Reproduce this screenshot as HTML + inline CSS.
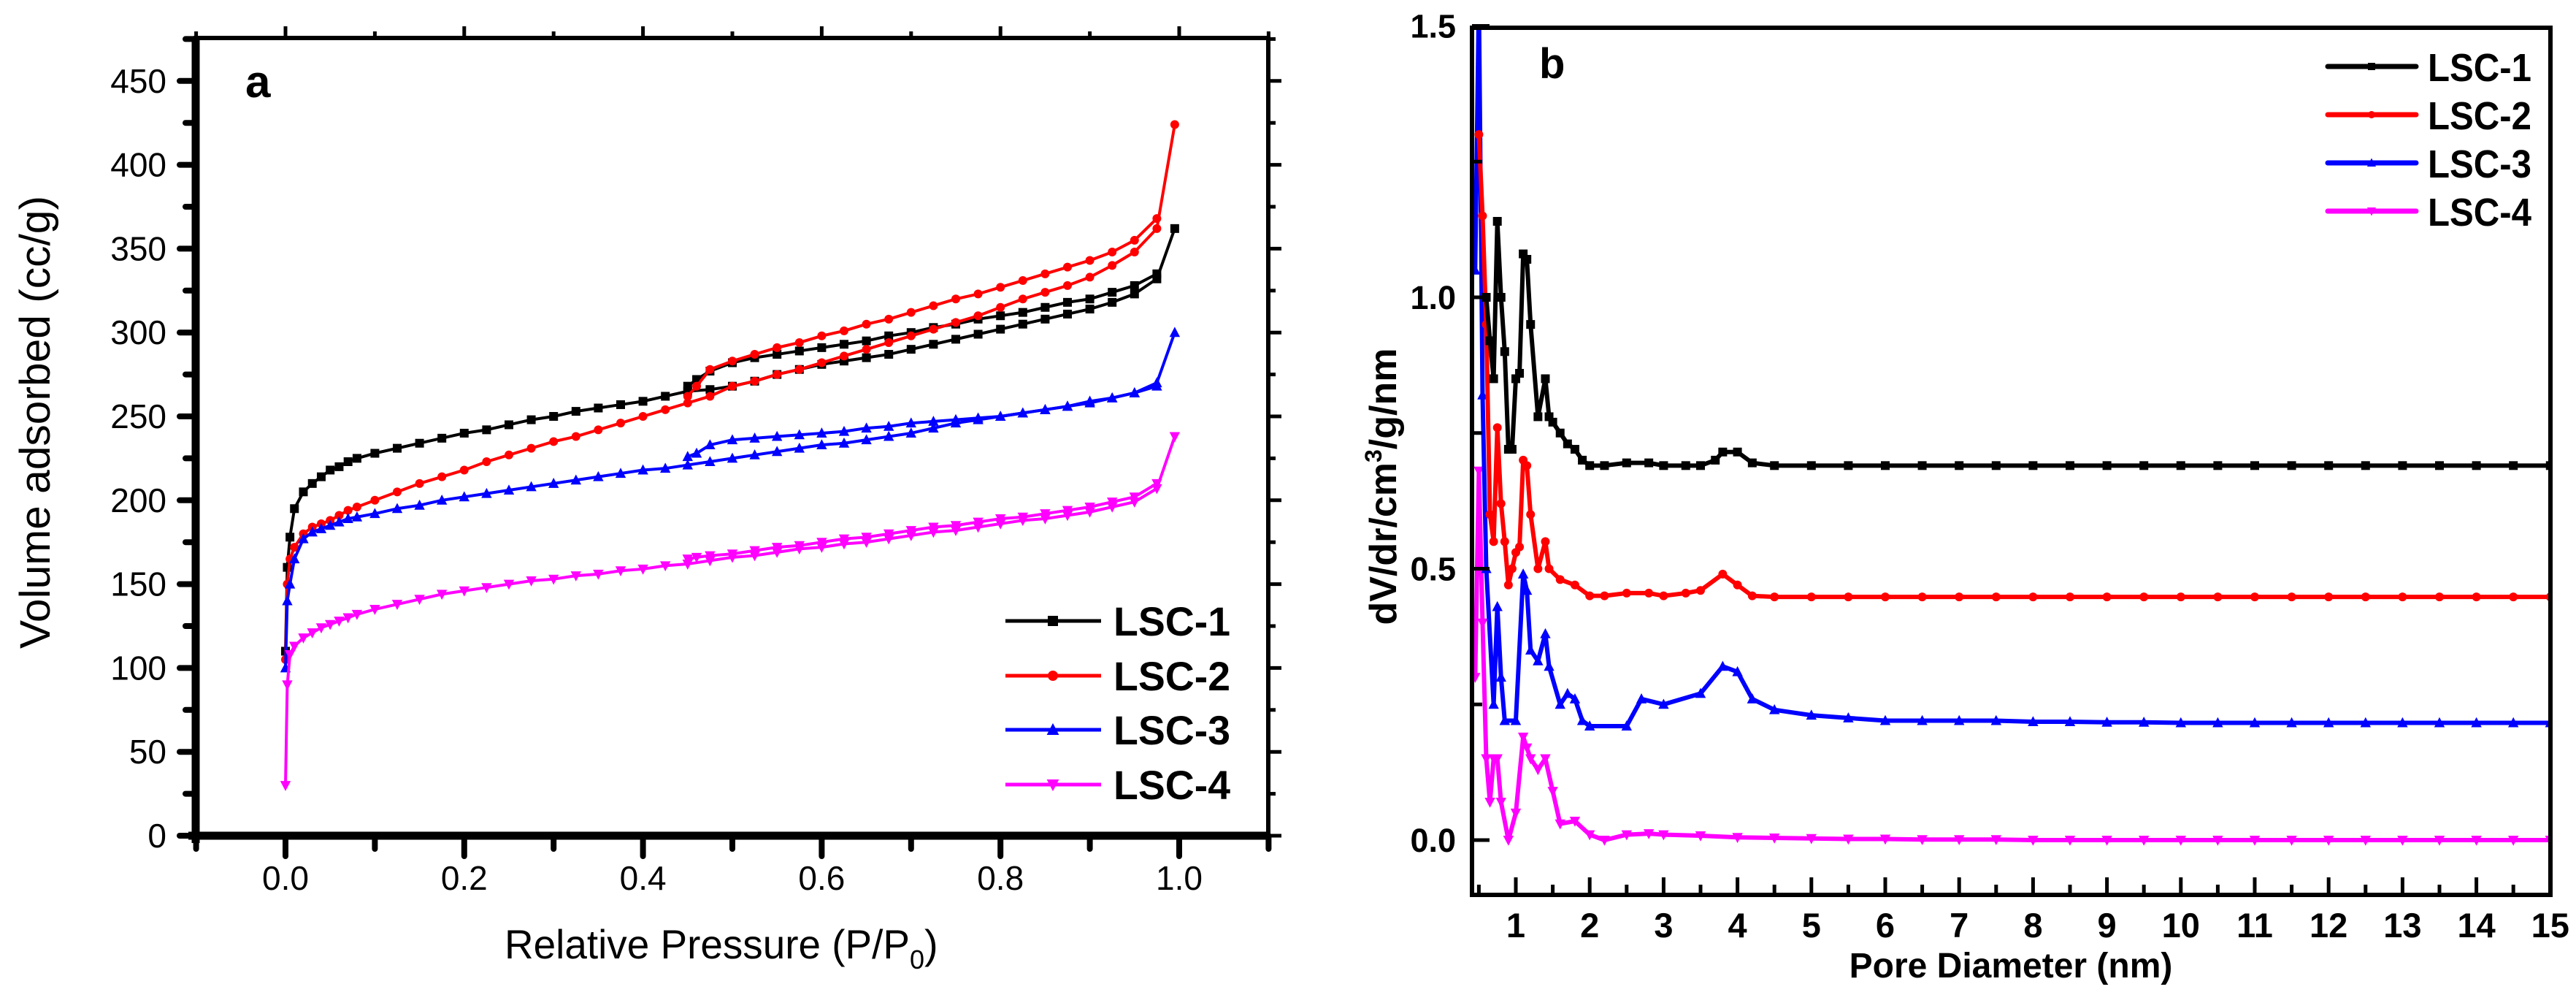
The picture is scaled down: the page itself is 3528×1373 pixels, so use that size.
<!DOCTYPE html>
<html><head><meta charset="utf-8"><style>
html,body{margin:0;padding:0;background:#fff;}
svg{display:block;font-family:"Liberation Sans",Arial,sans-serif;}
</style></head><body>
<svg id="fig" width="3528" height="1373" viewBox="0 0 3528 1373" xmlns="http://www.w3.org/2000/svg">
<g id="pa"></g>
<g id="pb"></g>
</svg>
<script>
// ---------- Panel a data ----------
const aNames = ["LSC-1","LSC-2","LSC-3","LSC-4"];
const aColors = ["#000000","#ff0000","#0000ff","#ff00ff"];
const aAdsP = [0,0.002,0.005,0.01,0.02,0.03,0.04,0.05,0.06,0.07,0.08,0.1,0.125,0.15,0.175,0.2,0.225,0.25,0.275,0.3,0.325,0.35,0.375,0.4,0.425,0.45,0.475,0.5,0.525,0.55,0.575,0.6,0.625,0.65,0.675,0.7,0.725,0.75,0.775,0.8,0.825,0.85,0.875,0.9,0.925,0.95,0.975,0.995];
const ads1 = [110,160,178,195,205,210,214,218,220,223,225,228,231,234,237,240,242,245,248,250,253,255,257,259,262,265,266,268,271,275,278,281,283,285,287,290,293,296,299,302,305,308,311,314,318,323,332,362];
const ads2 = [105,150,165,172,180,184,186,188,191,194,196,200,205,210,214,218,223,227,231,235,238,242,246,250,254,258,262,268,271,275,278,282,286,290,294,298,302,306,310,315,320,324,328,333,340,348,362,424];
const ads3 = [100,140,150,165,177,181,183,185,187,189,190,192,195,197,200,202,204,206,208,210,212,214,216,218,219,221,223,225,227,229,231,233,234,236,238,240,243,246,248,250,252,254,256,258,261,264,270,300];
const ads4 = [30,90,108,113,118,121,124,126,128,130,132,135,138,141,144,146,148,150,152,153,155,156,158,159,161,162,164,166,167,169,171,172,174,175,177,179,181,182,184,186,188,189,191,193,196,199,207,238];
const aDesP = [0.975,0.95,0.925,0.9,0.875,0.85,0.825,0.8,0.775,0.75,0.725,0.7,0.675,0.65,0.625,0.6,0.575,0.55,0.525,0.5,0.475,0.46,0.45];
const des1 = [335,328,324,320,318,315,312,310,308,305,303,300,298,295,293,291,289,287,285,282,277,272,268];
const des2 = [368,355,348,343,339,335,331,327,323,320,316,312,308,305,301,298,294,291,287,283,278,268,262];
const des3 = [268,264,261,259,256,254,252,250,249,248,247,246,244,243,241,240,239,238,237,236,233,228,226];
const des4 = [210,202,199,196,194,192,190,189,187,185,184,182,180,178,177,175,173,172,170,168,167,166,165];
const aAds = [ads1,ads2,ads3,ads4];
const aDes = [des1,des2,des3,des4];
const aXTicks = ["0.0","0.2","0.4","0.6","0.8","1.0"];
const aYTicks = ["0","50","100","150","200","250","300","350","400","450"];

// ---------- Panel b data ----------
const bNames = ["LSC-1","LSC-2","LSC-3","LSC-4"];
const bColors = ["#000000","#ff0000","#0000ff","#ff00ff"];
const bX1 = [0.6,0.65,0.7,0.75,0.8,0.85,0.9,0.95,1.0,1.05,1.1,1.15,1.2,1.3,1.4,1.45,1.5,1.6,1.7,1.8,1.9,2.0,2.2,2.5,2.8,3.0,3.3,3.5,3.7,3.8,4.0,4.2,4.5,5,5.5,6,6.5,7,7.5,8,8.5,9,9.5,10,10.5,11,11.5,12,12.5,13,13.5,14,14.5,15];
const bY1 = [1.0,0.92,0.85,1.14,1.0,0.9,0.72,0.72,0.85,0.86,1.08,1.07,0.95,0.78,0.85,0.78,0.77,0.75,0.73,0.72,0.70,0.69,0.69,0.695,0.695,0.69,0.69,0.69,0.70,0.715,0.715,0.695,0.69,0.69,0.69,0.69,0.69,0.69,0.69,0.69,0.69,0.69,0.69,0.69,0.69,0.69,0.69,0.69,0.69,0.69,0.69,0.69,0.69,0.69];
const bX2 = [0.5,0.55,0.6,0.65,0.7,0.75,0.8,0.85,0.9,0.95,1.0,1.05,1.1,1.15,1.2,1.3,1.4,1.45,1.6,1.8,2.0,2.2,2.5,2.8,3.0,3.3,3.5,3.8,4.0,4.2,4.5,5,5.5,6,6.5,7,7.5,8,8.5,9,9.5,10,10.5,11,11.5,12,12.5,13,13.5,14,14.5,15];
const bY2 = [1.3,1.15,0.95,0.6,0.55,0.76,0.62,0.55,0.47,0.5,0.53,0.54,0.7,0.69,0.6,0.5,0.55,0.5,0.48,0.47,0.45,0.45,0.455,0.455,0.45,0.455,0.46,0.49,0.47,0.45,0.448,0.448,0.448,0.448,0.448,0.448,0.448,0.448,0.448,0.448,0.448,0.448,0.448,0.448,0.448,0.448,0.448,0.448,0.448,0.448,0.448,0.448];
const bX3 = [0.45,0.5,0.55,0.6,0.7,0.75,0.8,0.85,1.0,1.1,1.15,1.2,1.3,1.4,1.45,1.6,1.7,1.8,1.9,2.0,2.5,2.7,3.0,3.5,3.8,4.0,4.2,4.5,5,5.5,6,6.5,7,7.5,8,8.5,9,9.5,10,10.5,11,11.5,12,12.5,13,13.5,14,14.5,15];
const bY3 = [1.05,1.55,0.82,0.5,0.25,0.43,0.3,0.22,0.22,0.49,0.46,0.35,0.33,0.38,0.32,0.25,0.27,0.26,0.22,0.21,0.21,0.26,0.25,0.27,0.32,0.31,0.26,0.24,0.23,0.225,0.22,0.22,0.22,0.22,0.218,0.218,0.217,0.217,0.216,0.216,0.216,0.216,0.216,0.216,0.216,0.216,0.216,0.216,0.216];
const bX4 = [0.45,0.5,0.55,0.6,0.65,0.7,0.75,0.8,0.9,1.0,1.1,1.15,1.2,1.3,1.4,1.5,1.6,1.8,2.0,2.2,2.5,2.8,3.0,3.5,4,4.5,5,5.5,6,6.5,7,7.5,8,8.5,9,9.5,10,10.5,11,11.5,12,12.5,13,13.5,14,14.5,15];
const bY4 = [0.3,0.68,0.4,0.15,0.07,0.15,0.15,0.07,0.0,0.05,0.19,0.17,0.15,0.13,0.15,0.09,0.03,0.035,0.01,0.0,0.01,0.012,0.01,0.008,0.005,0.004,0.003,0.002,0.002,0.001,0.001,0.001,0,0,0,0,0,0,0,0,0,0,0,0,0,0,0];
const bXs = [bX1,bX2,bX3,bX4];
const bYs = [bY1,bY2,bY3,bY4];
const bXTicks = ["1","2","3","4","5","6","7","8","9","10","11","12","13","14","15"];
const bYTicks = ["0.0","0.5","1.0","1.5"];

const NS="http://www.w3.org/2000/svg";
function mk(parent,tag,attrs,text){
  const e=document.createElementNS(NS,tag);
  for(const k in attrs) e.setAttribute(k,attrs[k]);
  if(text!==undefined) e.textContent=text;
  parent.appendChild(e); return e;
}
function marker(g,kind,x,y,c,s){
  let m;
  if(kind===0) m=mk(g,"rect",{x:x-s,y:y-s,width:2*s,height:2*s,fill:c});
  else if(kind===1) m=mk(g,"circle",{cx:x,cy:y,r:s,fill:c});
  else if(kind===2) m=mk(g,"polygon",{points:`${x},${y-s*1.3} ${x-s*1.2},${y+s} ${x+s*1.2},${y+s}`,fill:c});
  else m=mk(g,"polygon",{points:`${x},${y+s*1.3} ${x-s*1.2},${y-s} ${x+s*1.2},${y-s}`,fill:c});
  
  
}

// ---------- Panel a ----------
(function(){
  const g=document.getElementById('pa');
  const L=268,R=1737,T=52,B=1144;
  const xs=v=>391+(v-0)*1224;
  const ys=v=>1144-v*2.296;
  const clip=mk(g,"clipPath",{id:"ca"}); mk(clip,"rect",{x:L,y:T,width:R-L,height:B-T});
  for(let s=0;s<4;s++){
    const sg=mk(g,"g",{"clip-path":"url(#ca)"});
    
    
    const pa=aAdsP.map((p,i)=>xs(p)+","+ys(aAds[s][i])).join(" ");
    mk(sg,"polyline",{points:pa,fill:"none",stroke:aColors[s],"stroke-width":4,"stroke-linejoin":"round"});
    const pd=aDesP.map((p,i)=>xs(p)+","+ys(aDes[s][i])).join(" ");
    mk(sg,"polyline",{points:pd,fill:"none",stroke:aColors[s],"stroke-width":4,"stroke-linejoin":"round"});
    aAdsP.forEach((p,i)=>marker(sg,s,xs(p),ys(aAds[s][i]),aColors[s],6));
    aDesP.forEach((p,i)=>marker(sg,s,xs(p),ys(aDes[s][i]),aColors[s],6));
  }
  const fr=mk(g,"rect",{x:L,y:T,width:R-L,height:B-T,fill:"none",stroke:"#000","stroke-width":6});
  
  
  mk(g,"line",{x1:L,y1:T,x2:L,y2:B+10,stroke:"#000","stroke-width":11});
  mk(g,"line",{x1:L-10,y1:B,x2:R,y2:B,stroke:"#000","stroke-width":11});
  for(let v=0;v<=475;v+=25){
    const major=v%50===0;
    mk(g,"line",{x1:L-(major?22:14),y1:ys(v),x2:L,y2:ys(v),stroke:"#000","stroke-width":8,"stroke-linecap":"round"});
    mk(g,"line",{x1:R,y1:ys(v),x2:R+(major?18:10),y2:ys(v),stroke:"#000","stroke-width":5});
  }
  aYTicks.forEach(t=>{
    const e=mk(g,"text",{x:L-40,y:ys(+t)+16,"text-anchor":"end","font-size":46,fill:"#000"},t);
    
    
  });
  for(let v=-0.1;v<=1.101;v+=0.1){
    const major=Math.round(v*10)%2===0;
    mk(g,"line",{x1:xs(v),y1:B,x2:xs(v),y2:B+(major?28:18),stroke:"#000","stroke-width":8,"stroke-linecap":"round"});
    mk(g,"line",{x1:xs(v),y1:T,x2:xs(v),y2:T-(major?16:9),stroke:"#000","stroke-width":5});
  }
  aXTicks.forEach(t=>{
    const e=mk(g,"text",{x:xs(+t),y:1218,"text-anchor":"middle","font-size":46,fill:"#000"},t);
    
    
  });
  let e=mk(g,"text",{x:0,y:0,transform:"translate(68,578) rotate(-90)","text-anchor":"middle","font-size":58,fill:"#000","textLength":620,"lengthAdjust":"spacingAndGlyphs"},"Volume adsorbed (cc/g)");
  
  
  e=mk(g,"text",{x:691,y:1312,"font-size":56,fill:"#000"});
  
  
  e.innerHTML='<tspan textLength="555" lengthAdjust="spacingAndGlyphs">Relative Pressure (P/P</tspan><tspan font-size="36" dy="14">0</tspan><tspan dy="-14">)</tspan>';
  e=mk(g,"text",{x:336,y:133,"font-size":62,"font-weight":"bold",fill:"#000"},"a");
  
  
  const ly=[850,925,999,1074];
  for(let s=0;s<4;s++){
    const lg=mk(g,"g",{});
    
    
    mk(lg,"line",{x1:1377,y1:ly[s],x2:1508,y2:ly[s],stroke:aColors[s],"stroke-width":5});
    marker(lg,s,1442,ly[s],aColors[s],7);
    mk(lg,"text",{x:1525,y:ly[s]+20,"font-size":56,"font-weight":"bold",fill:"#000","textLength":160,"lengthAdjust":"spacingAndGlyphs"},aNames[s]);
  }
})();

// ---------- Panel b ----------
(function(){
  const g=document.getElementById('pb');
  const L=2016,R=3493,T=38,B=1225;
  const xs=v=>2076+(v-1)*101.2;
  const ys=v=>1150-v*743;
  const clip=mk(g,"clipPath",{id:"cb"}); mk(clip,"rect",{x:L,y:T,width:R-L,height:B-T});
  for(let s=3;s>=0;s--){
    const sg=mk(g,"g",{"clip-path":"url(#cb)"});
    
    
    const pts=bXs[s].map((x,i)=>xs(x)+","+ys(bYs[s][i])).join(" ");
    mk(sg,"polyline",{points:pts,fill:"none",stroke:bColors[s],"stroke-width":6,"stroke-linejoin":"round"});
    bXs[s].forEach((x,i)=>marker(sg,s,xs(x),ys(bYs[s][i]),bColors[s],6));
  }
  const fr=mk(g,"rect",{x:L,y:T,width:R-L,height:B-T,fill:"none",stroke:"#000","stroke-width":6});
  
  
  for(let v=0;v<=1.5;v+=0.25){
    const major=Math.round(v*4)%2===0;
    mk(g,"line",{x1:L,y1:ys(v),x2:L+(major?24:14),y2:ys(v),stroke:"#000","stroke-width":5});
  }
  bYTicks.forEach(t=>{
    const e=mk(g,"text",{x:L-22,y:ys(+t)+16,"text-anchor":"end","font-size":45,"font-weight":"bold",fill:"#000"},t);
    
    
  });
  for(let v=0.5;v<=15.01;v+=0.5){
    const major=Math.abs(v-Math.round(v))<0.01;
    mk(g,"line",{x1:xs(v),y1:B,x2:xs(v),y2:B-(major?24:14),stroke:"#000","stroke-width":5});
  }
  bXTicks.forEach(t=>{
    const e=mk(g,"text",{x:xs(+t),y:1283,"text-anchor":"middle","font-size":47,"font-weight":"bold",fill:"#000"},t);
    
    
  });
  let e=mk(g,"text",{x:0,y:0,transform:"translate(1912,666) rotate(-90)","text-anchor":"middle","font-size":52,"font-weight":"bold",fill:"#000"});
  
  
  e.innerHTML='dV/dr/cm<tspan font-size="32" dy="-20">3</tspan><tspan dy="20">/g/nm</tspan>';
  e=mk(g,"text",{x:2754,y:1338,"text-anchor":"middle","font-size":48,"font-weight":"bold",fill:"#000"},"Pore Diameter (nm)");
  
  
  e=mk(g,"text",{x:2108,y:107,"font-size":58,"font-weight":"bold",fill:"#000"},"b");
  
  
  const ly=[91,157,223,289];
  for(let s=0;s<4;s++){
    const lg=mk(g,"g",{});
    
    
    mk(lg,"line",{x1:3188,y1:ly[s],x2:3309,y2:ly[s],stroke:bColors[s],"stroke-width":7,"stroke-linecap":"round"});
    marker(lg,s,3248,ly[s],bColors[s],5);
    mk(lg,"text",{x:3325,y:ly[s]+20,"font-size":54,"font-weight":"bold",fill:"#000","textLength":142,"lengthAdjust":"spacingAndGlyphs"},bNames[s]);
  }
})();
</script>
</body></html>
